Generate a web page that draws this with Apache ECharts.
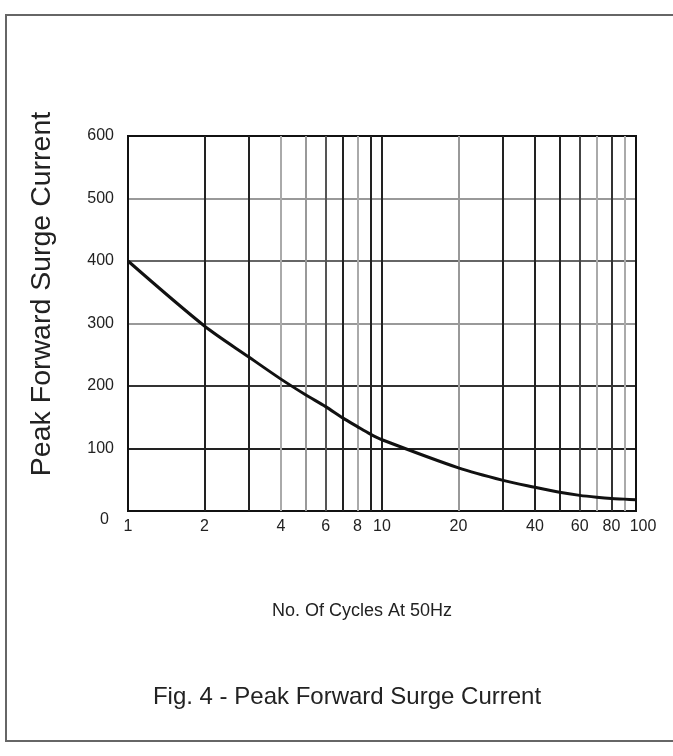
<!DOCTYPE html>
<html>
<head>
<meta charset="utf-8">
<script src="https://cdn.jsdelivr.net/npm/echarts@6/dist/echarts.min.js"></script>
<style>
html,body{margin:0;padding:0;background:#fff;}
#chart{width:673px;height:756px;}
</style>
</head>
<body>
<div id="chart"></div>
<script>
// Number of cycles at 50 Hz (log axis)
const cycles = [1, 2, 3, 4, 5, 6, 7, 8, 9, 10, 20, 30, 40, 50, 60, 70, 80, 90, 100];
// Peak forward surge current (A)
const surgeCurrent = [400, 296, 246, 211, 186, 167, 149, 135, 123, 114, 69, 49, 38, 30, 25, 22, 20, 19, 18];

// Grid lines and tick labels of the log axis
const xGridValues = [1, 2, 3, 4, 5, 6, 7, 8, 9, 10, 20, 30, 40, 50, 60, 70, 80, 90, 100];
const xGridColors = ['#111', '#222', '#222', '#aaa', '#999', '#555', '#222', '#aaa', '#222', '#222',
                     '#999', '#222', '#222', '#222', '#444', '#aaa', '#333', '#aaa', '#111'];
const xTickLabels = [1, 2, 4, 6, 8, 10, 20, 40, 60, 80, 100];
const yTicks = [0, 100, 200, 300, 400, 500, 600];
const yGridColors = ['#111', '#222', '#333', '#999', '#666', '#999', '#111'];

const font = '"Liberation Sans", Arial, sans-serif';

const chart = echarts.init(document.getElementById('chart'));
chart.setOption({
  animation: false,
  backgroundColor: '#fff',
  grid: {
    left: 128, right: 37, top: 136, bottom: 245,
    show: true, borderColor: '#111', borderWidth: 2, backgroundColor: 'transparent'
  },
  xAxis: {
    type: 'log', logBase: 10, min: 1, max: 100,
    axisLine: { show: true, lineStyle: { color: '#111', width: 2 } },
    axisTick: { show: false },
    axisLabel: { show: false },
    splitLine: { show: false },
    minorSplitLine: { show: false }
  },
  yAxis: {
    type: 'value', min: yTicks[0], max: yTicks[yTicks.length - 1], interval: 100,
    axisLine: { show: true, lineStyle: { color: '#111', width: 2 } },
    axisTick: { show: false },
    axisLabel: {
      color: '#222', fontSize: 16, fontFamily: font, margin: 14,
      formatter: v => (v === 0 ? '{z|0}' : String(v)),
      rich: { z: { fontSize: 16, fontFamily: font, color: '#222', padding: [18, 5, 0, 0] } }
    },
    splitLine: { show: true, lineStyle: { color: yGridColors, width: 2 } }
  },
  series: [
    {
      type: 'line',
      z: 1,
      data: [],
      silent: true,
      markLine: {
        silent: true,
        symbol: ['none', 'none'],
        animation: false,
        data: xGridValues.map((v, i) => ({
          xAxis: v,
          lineStyle: { color: xGridColors[i], width: 2, type: 'solid' },
          label: {
            show: xTickLabels.indexOf(v) >= 0,
            position: 'start',
            distance: 8,
            formatter: String(v),
            color: '#222',
            fontSize: 16,
            fontFamily: font,
            padding: v === 100 ? [0, 0, 0, 14] : 0
          }
        }))
      }
    },
    {
      type: 'line',
      z: 5,
      smooth: 0.3,
      symbol: 'none',
      data: cycles.map((c, i) => [c, surgeCurrent[i]]),
      lineStyle: { color: '#111', width: 3 }
    }
  ],
  graphic: [
    {
      type: 'rect',
      shape: { x: 6, y: 15, width: 720, height: 726 },
      style: { fill: 'none', stroke: '#666', lineWidth: 2 },
      z: -10
    },
    {
      type: 'text',
      x: 42, y: 294,
      rotation: Math.PI / 2,
      style: {
        text: 'Peak Forward Surge Current',
        fontSize: 28.5, fontFamily: font, fill: '#222',
        align: 'center', verticalAlign: 'middle'
      }
    },
    {
      type: 'text',
      x: 362, y: 611,
      style: {
        text: 'No. Of Cycles At 50Hz',
        fontSize: 18, fontFamily: font, fill: '#222',
        align: 'center', verticalAlign: 'middle'
      }
    },
    {
      type: 'text',
      x: 347, y: 697,
      style: {
        text: 'Fig. 4 - Peak Forward Surge Current',
        fontSize: 24, fontFamily: font, fill: '#222',
        align: 'center', verticalAlign: 'middle'
      }
    }
  ]
});
</script>
</body>
</html>
